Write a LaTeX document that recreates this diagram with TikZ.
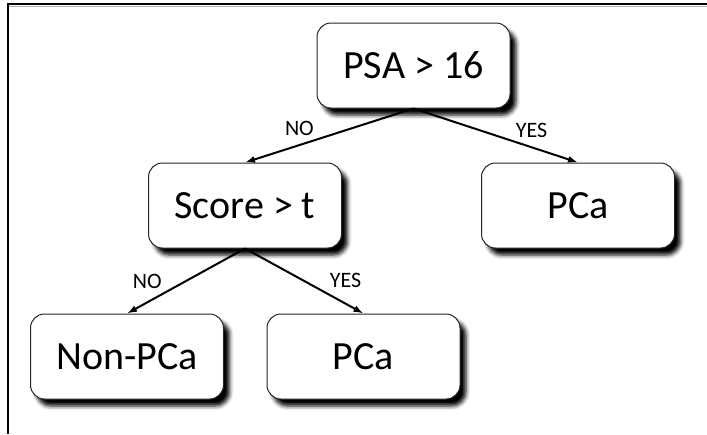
\documentclass[tikz,border=0pt]{standalone}
\usepackage{fontspec}
\setmainfont{Carlito}
\usetikzlibrary{arrows.meta, shadows.blur}

\begin{document}
\begin{tikzpicture}[x=1pt, y=-1pt,
		decision/.style={draw=black!85, fill=white, rounded corners=14pt,
			minimum width=193pt, minimum height=85pt, line width=1pt,
			font=\fontsize{40}{48}\selectfont,
			blur shadow={shadow xshift=6pt, shadow yshift=-7pt,
				shadow blur radius=4pt, shadow opacity=100}},
		branch/.style={-{Latex[length=10pt, width=7pt]}, line width=2pt},
		answer/.style={font=\fontsize{22}{26}\selectfont, inner sep=1pt}]
			\useasboundingbox (0,0) rectangle (707,434);
			
			% Frame (top and left edges only)
			\draw[gray!60, line width=1pt] (9,6.5) -- (707,6.5);
			\draw[line width=1.4pt] (8,434) -- (8,4) -- (707,4);
			
			% Root test
			\node[decision] (psa) at (413.5,65.5) {PSA > 16};
			
			% Second level
			\node[decision] (score) at (245,205.5) {Score > t};
			\node[decision] (pcaright) at (578,205.5) {PCa};
			
			% Leaves
			\node[decision] (nonpca) at (127,356.5) {Non-PCa};
			\node[decision] (pcaleft) at (363.5,356.5) {PCa};
			
			% Branches
			\draw[branch] (psa.south) -- node[answer, pos=0.58, anchor=south east, yshift=2pt] {NO} (score.north);
			\draw[branch] (psa.south) -- node[answer, pos=0.61, anchor=south west, yshift=2pt] {YES} (pcaright.north);
			\draw[branch] (score.south) -- node[answer, pos=0.69, anchor=south east, yshift=3pt] {NO} (nonpca.north);
			\draw[branch] (score.south) -- node[answer, pos=0.70, anchor=south west, yshift=4pt] {YES} (pcaleft.north);
			
		\end{tikzpicture}
\end{document}
